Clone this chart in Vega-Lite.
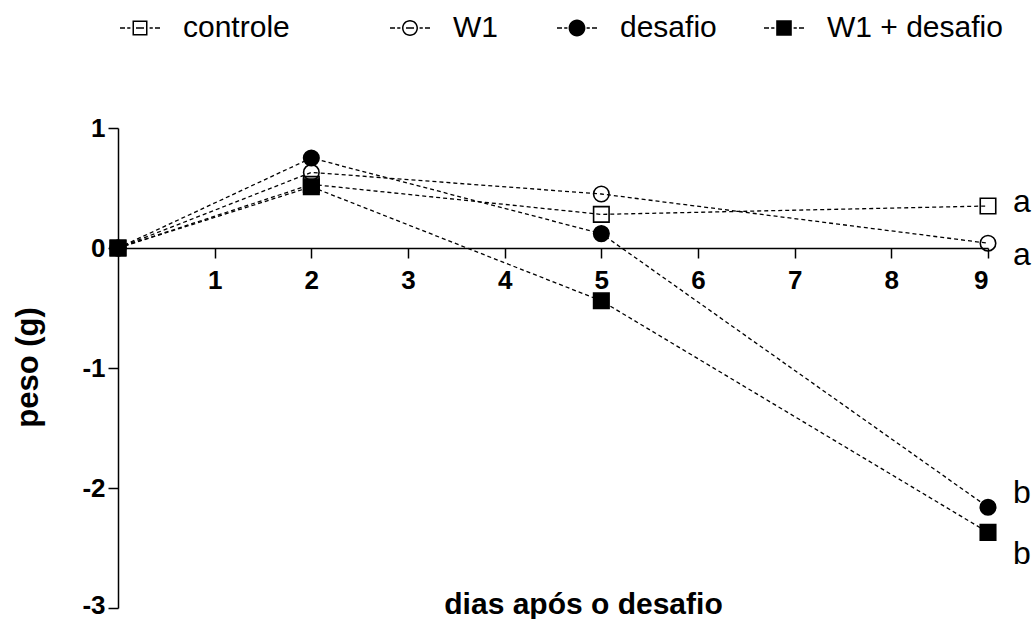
{
  "$schema": "https://vega.github.io/schema/vega-lite/v6.json",
  "autosize": {"type": "none"},
  "padding": {"left": 118, "top": 128, "right": 47, "bottom": 11},
  "width": 870,
  "height": 480,
  "background": "white",
  "config": {
    "view": {"stroke": null},
    "font": "Liberation Sans",
    "axis": {"grid": false, "domainColor": "black", "domainWidth": 1.5, "tickColor": "black", "tickWidth": 1.5, "tickSize": 10, "labelColor": "black", "titleColor": "black", "labelFont": "Liberation Sans", "titleFont": "Liberation Sans", "labelFontWeight": "bold", "titleFontWeight": "bold"},
    "legend": {
      "orient": "none",
      "legendY": -120,
      "symbolSize": 1600,
      "symbolOpacity": 1,
      "symbolFillColor": "black",
      "symbolStrokeColor": "transparent",
      "symbolStrokeWidth": 0,
      "labelFont": "Liberation Sans",
      "labelFontSize": 30,
      "labelColor": "black",
      "labelOffset": 23,
      "labelLimit": 0
    },
    "point": {"filled": true, "color": "black", "opacity": 0, "size": 1600}
  },
  "datasets": {
    "peso": [
      {"grupo": "controle", "dia": 0, "peso": 0},
      {"grupo": "controle", "dia": 2, "peso": 0.53},
      {"grupo": "controle", "dia": 5, "peso": 0.28},
      {"grupo": "controle", "dia": 9, "peso": 0.35, "sig": "a"},
      {"grupo": "W1", "dia": 0, "peso": 0},
      {"grupo": "W1", "dia": 2, "peso": 0.63},
      {"grupo": "W1", "dia": 5, "peso": 0.45},
      {"grupo": "W1", "dia": 9, "peso": 0.04, "sig": "a"},
      {"grupo": "desafio", "dia": 0, "peso": 0},
      {"grupo": "desafio", "dia": 2, "peso": 0.75},
      {"grupo": "desafio", "dia": 5, "peso": 0.12},
      {"grupo": "desafio", "dia": 9, "peso": -2.16, "sig": "b"},
      {"grupo": "W1 + desafio", "dia": 0, "peso": 0},
      {"grupo": "W1 + desafio", "dia": 2, "peso": 0.51},
      {"grupo": "W1 + desafio", "dia": 5, "peso": -0.44},
      {"grupo": "W1 + desafio", "dia": 9, "peso": -2.37, "sig": "b"}
    ]
  },
  "data": {"name": "peso"},
  "resolve": {"scale": {"shape": "independent"}, "legend": {"shape": "independent"}},
  "encoding": {
    "x": {
      "field": "dia", "type": "quantitative",
      "scale": {"domain": [0, 9], "nice": false, "zero": false},
      "axis": {
        "title": "dias após o desafio",
        "values": [1, 2, 3, 4, 5, 6, 7, 8, 9],
        "offset": -360,
        "labelFontSize": 26, "labelPadding": 9,
        "titleFontSize": 30,
        "titleX": 465, "titleY": 365, "titleAlign": "center", "titleBaseline": "alphabetic", "titleAnchor": null
      }
    },
    "y": {
      "field": "peso", "type": "quantitative",
      "scale": {"domain": [-3, 1], "nice": false, "zero": false},
      "axis": {
        "title": "peso (g)",
        "values": [-3, -2, -1, 0, 1],
        "labelExpr": "'' + datum.value",
        "labelFontSize": 26, "labelPadding": 3,
        "labelBaseline": {"condition": {"test": "datum.value === -3", "value": "bottom"}, "value": "middle"},
        "labelOffset": {"condition": {"test": "datum.value === -3", "value": 10}, "value": 0},
        "titleFontSize": 31, "titleAngle": -90,
        "titleX": -81, "titleY": 239, "titleAlign": "center", "titleBaseline": "alphabetic", "titleAnchor": null
      }
    }
  },
  "layer": [
    {
      "mark": {"type": "line", "color": "black", "strokeWidth": 1.3, "strokeDash": [4, 3]},
      "encoding": {"detail": {"field": "grupo"}}
    },
    {
      "mark": {"type": "point", "filled": true, "stroke": "black", "strokeWidth": 1.6, "size": 240, "opacity": 1},
      "encoding": {
        "shape": {
          "field": "grupo", "type": "nominal",
          "scale": {"domain": ["controle", "W1", "desafio", "W1 + desafio"], "range": ["square", "circle", "circle", "square"]},
          "legend": null
        },
        "fill": {
          "field": "grupo", "type": "nominal",
          "scale": {"domain": ["controle", "W1", "desafio", "W1 + desafio"], "range": ["transparent", "transparent", "black", "black"]},
          "legend": null
        }
      }
    },
    {
      "description": "Key entry: controle (dashed line with open square)",
      "transform": [{"filter": "datum.grupo === 'controle'"}],
      "mark": "point",
      "encoding": {
        "shape": {
          "field": "grupo", "type": "nominal",
          "scale": {"domain": ["controle"], "range": ["M-1,-0.035H-0.75V0.035H-1ZM-0.64,-0.035H-0.48V0.035H-0.64ZM0.48,-0.035H0.64V0.035H0.48ZM0.75,-0.035H1V0.035H0.75ZM-0.375,-0.375H0.375V0.375H-0.375ZM-0.3,-0.3V0.3H0.3V-0.3ZM-0.2,-0.035H0.2V0.035H-0.2Z"]},
          "legend": {"title": null, "legendX": 2}
        }
      }
    },
    {
      "description": "Key entry: W1 (dashed line with open circle)",
      "transform": [{"filter": "datum.grupo === 'W1'"}],
      "mark": "point",
      "encoding": {
        "shape": {
          "field": "grupo", "type": "nominal",
          "scale": {"domain": ["W1"], "range": ["M-1,-0.035H-0.75V0.035H-1ZM-0.64,-0.035H-0.48V0.035H-0.64ZM0.48,-0.035H0.64V0.035H0.48ZM0.75,-0.035H1V0.035H0.75ZM0.4,0A0.4,0.4,0,1,1,-0.4,0A0.4,0.4,0,1,1,0.4,0ZM0.325,0A0.325,0.325,0,1,0,-0.325,0A0.325,0.325,0,1,0,0.325,0ZM-0.2,-0.035H0.2V0.035H-0.2Z"]},
          "legend": {"title": null, "legendX": 272}
        }
      }
    },
    {
      "description": "Key entry: desafio (dashed line with filled circle)",
      "transform": [{"filter": "datum.grupo === 'desafio'"}],
      "mark": "point",
      "encoding": {
        "shape": {
          "field": "grupo", "type": "nominal",
          "scale": {"domain": ["desafio"], "range": ["M-1,-0.035H-0.75V0.035H-1ZM-0.64,-0.035H-0.48V0.035H-0.64ZM0.48,-0.035H0.64V0.035H0.48ZM0.75,-0.035H1V0.035H0.75ZM0.42,0A0.42,0.42,0,1,1,-0.42,0A0.42,0.42,0,1,1,0.42,0Z"]},
          "legend": {"title": null, "legendX": 439}
        }
      }
    },
    {
      "description": "Key entry: W1 + desafio (dashed line with filled square)",
      "transform": [{"filter": "datum.grupo === 'W1 + desafio'"}],
      "mark": "point",
      "encoding": {
        "shape": {
          "field": "grupo", "type": "nominal",
          "scale": {"domain": ["W1 + desafio"], "range": ["M-1,-0.035H-0.75V0.035H-1ZM-0.64,-0.035H-0.48V0.035H-0.64ZM0.48,-0.035H0.64V0.035H0.48ZM0.75,-0.035H1V0.035H0.75ZM-0.39,-0.39H0.39V0.39H-0.39Z"]},
          "legend": {"title": null, "legendX": 646}
        }
      }
    },
    {
      "transform": [{"filter": "datum.grupo === 'controle' && datum.sig"}],
      "mark": {"type": "text", "align": "left", "baseline": "alphabetic", "dx": 25, "dy": 6, "fontSize": 32, "font": "Liberation Sans", "color": "black"},
      "encoding": {"text": {"field": "sig"}}
    },
    {
      "transform": [{"filter": "datum.grupo === 'W1' && datum.sig"}],
      "mark": {"type": "text", "align": "left", "baseline": "alphabetic", "dx": 25, "dy": 22, "fontSize": 32, "font": "Liberation Sans", "color": "black"},
      "encoding": {"text": {"field": "sig"}}
    },
    {
      "transform": [{"filter": "datum.grupo === 'desafio' && datum.sig"}],
      "mark": {"type": "text", "align": "left", "baseline": "alphabetic", "dx": 25, "dy": -4, "fontSize": 32, "font": "Liberation Sans", "color": "black"},
      "encoding": {"text": {"field": "sig"}}
    },
    {
      "transform": [{"filter": "datum.grupo === 'W1 + desafio' && datum.sig"}],
      "mark": {"type": "text", "align": "left", "baseline": "alphabetic", "dx": 25, "dy": 32, "fontSize": 32, "font": "Liberation Sans", "color": "black"},
      "encoding": {"text": {"field": "sig"}}
    }
  ]
}
